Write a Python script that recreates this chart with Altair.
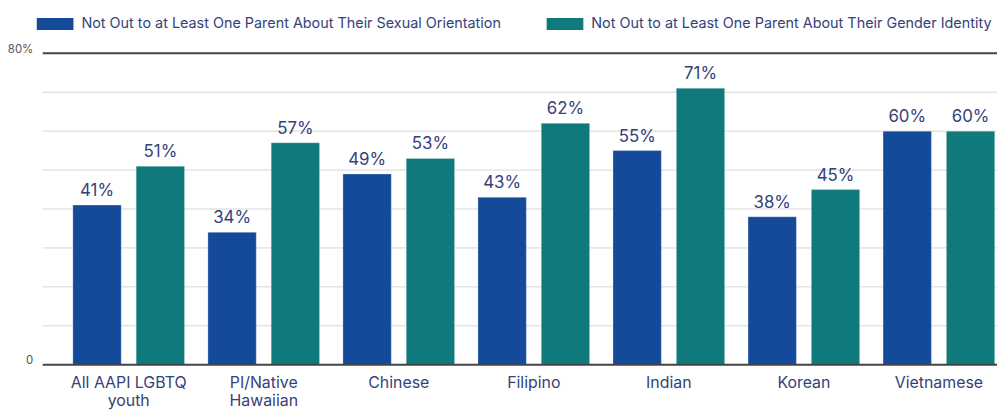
import altair as alt
import pandas as pd

categories = ["All AAPI LGBTQ youth", "PI/Native Hawaiian", "Chinese", "Filipino",
              "Indian", "Korean", "Vietnamese"]
series = ["Not Out to at Least One Parent About Their Sexual Orientation",
          "Not Out to at Least One Parent About Their Gender Identity"]
sexual_orientation = [41, 34, 49, 43, 55, 38, 60]
gender_identity = [51, 57, 53, 62, 71, 45, 60]
colors = ["#154a9b", "#0f797b"]
grid_values = [0.1, 0.2, 0.3, 0.4, 0.5, 0.6, 0.7]
frame_values = [0.0, 0.8]

rows = []
for c, a, b in zip(categories, sexual_orientation, gender_identity):
    rows.append({"cat": c, "series": series[0], "value": a / 100})
    rows.append({"cat": c, "series": series[1], "value": b / 100})
df = pd.DataFrame(rows)

FONT = "Inter"
NAVY = "#34427a"

x = alt.X("cat:N", sort=categories, title=None,
          scale=alt.Scale(paddingInner=0.173, paddingOuter=0.12, align=0.93),
          axis=alt.Axis(domain=False, ticks=False, labelAngle=0, labelFont=FONT,
                        labelFontSize=16, labelColor=NAVY, labelPadding=10,
                        labelLineHeight=18, labelBaseline="top",
                        labelExpr="datum.label == 'All AAPI LGBTQ youth' ? ['All AAPI LGBTQ', 'youth'] : datum.label == 'PI/Native Hawaiian' ? ['PI/Native', 'Hawaiian'] : datum.label"))
xo = alt.XOffset("series:N", sort=series,
                 scale=alt.Scale(paddingInner=0.236, paddingOuter=0))
y = alt.Y("value:Q", title=None,
          scale=alt.Scale(domain=[0, 0.8], nice=False),
          axis=alt.Axis(values=[0, 0.8],
                        labelExpr="datum.value == 0 ? '0' : '80%'",
                        domain=False, ticks=False, grid=False,
                        labelFont=FONT, labelFontSize=11.5, labelColor="#555555",
                        labelPadding=10, labelOffset=-4))

grid = alt.Chart(pd.DataFrame({"v": grid_values})).mark_rule(
    color="#d6d6d6", strokeWidth=1).encode(y=alt.Y("v:Q"))

bars = alt.Chart(df).mark_bar(stroke="#ffffff", strokeOpacity=0.35, strokeWidth=0.8).encode(
    x=x, xOffset=xo, y=y,
    color=alt.Color("series:N", sort=series,
                    scale=alt.Scale(domain=series, range=colors),
                    legend=alt.Legend(title=None, orient="none", direction="horizontal",
                                      legendX=-6, legendY=-48,
                                      symbolType="M-1,-0.33H1V0.33H-1Z", symbolSize=1368,
                                      symbolStrokeWidth=0, labelFont=FONT,
                                      labelFontSize=14.5, labelColor=NAVY, labelOffset=8,
                                      labelLimit=600, columnPadding=45, gridAlign="all"))
)

labels = alt.Chart(df).mark_text(baseline="bottom", dy=-5, font=FONT, fontSize=17,
                                 color=NAVY).encode(
    x=alt.X("cat:N", sort=categories), xOffset=alt.XOffset("series:N", sort=series),
    y="value:Q", text=alt.Text("value:Q", format=".0%"))

lines = alt.Chart(pd.DataFrame({"v": frame_values})).mark_rule(
    color="#444444", strokeWidth=2).encode(y="v:Q")

chart = alt.layer(grid, bars, lines, labels).properties(
    width=962, height=314,
    autosize=alt.AutoSizeParams(type="none"),
    padding={"left": 35, "top": 44, "right": 0, "bottom": 44},
).configure_view(stroke=None)

chart.save("out.html", embed_options={"renderer": "svg", "actions": False})
